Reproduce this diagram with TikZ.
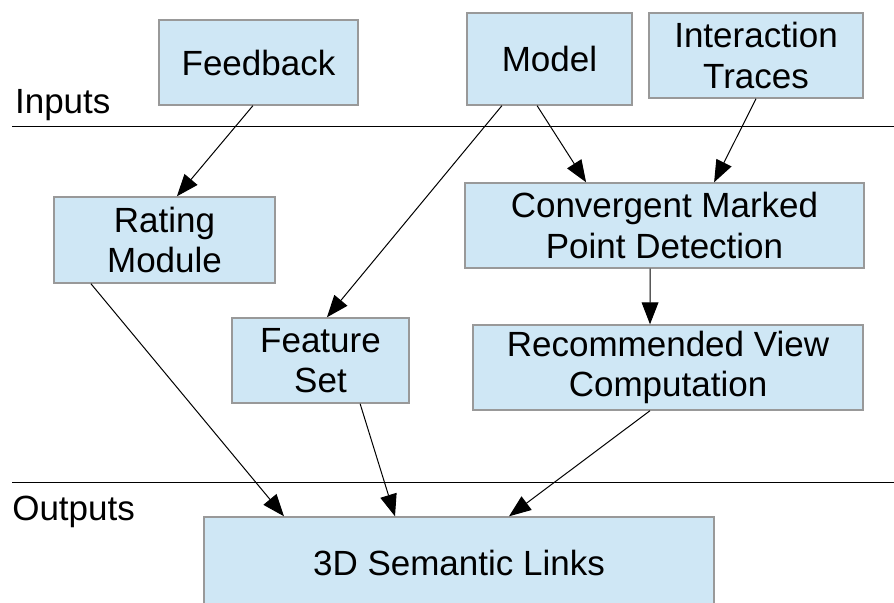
\documentclass[tikz,border=0pt]{standalone}
\usepackage{fontspec}
\setmainfont{Liberation Sans}
\usetikzlibrary{arrows.meta}
\usepackage{xcolor}
\definecolor{boxblue}{RGB}{207,231,245}

\begin{document}
\begin{tikzpicture}[
    bx/.style={draw=gray!80, line width=0.035cm, fill=boxblue, align=center, inner sep=0pt, font=\fontsize{24.9}{28.5}\selectfont},
    lbl/.style={anchor=base west, inner sep=0pt, font=\fontsize{24.9}{28.5}\selectfont},
    ar/.style={-{Triangle[length=0.55cm,width=0.42cm]}, draw=black, line width=0.025cm}]

    \useasboundingbox (0,0) rectangle (22.35,-15.075);

    \node[lbl] (In) at (0.37,-2.83) {Inputs};
    \node[lbl] (Out) at (0.3,-13.0) {Outputs};
    \draw[line width=0.03cm] (0.3,-3.17) -- (22.35,-3.17);
    \draw[line width=0.03cm] (0.3,-12.07) -- (22.35,-12.07);

    \node[bx, minimum width=4.975cm, minimum height=2.125cm] (Fe) at (6.4625,-1.5625) {Feedback};
    \node[bx, minimum width=4.125cm, minimum height=2.3cm] (Mo) at (13.7375,-1.475) {Model};
    \node[bx, minimum width=5.35cm, minimum height=2.125cm] (InTr) at (18.9,-1.3875) {Interaction\\Traces};

    \node[bx, minimum width=5.525cm, minimum height=2.15cm] (RaMo) at (4.1125,-6.0) {Rating\\Module};
    \node[bx, minimum width=9.975cm, minimum height=2.125cm] (CoMa) at (16.6125,-5.6375) {Convergent Marked\\Point Detection};

    \node[bx, minimum width=4.425cm, minimum height=2.125cm] (FeSe) at (8.0125,-9.0125) {Feature\\Set};
    \node[bx, minimum width=9.75cm, minimum height=2.125cm] (ReVi) at (16.7,-9.1875) {Recommended View\\Computation};

    \node[bx, minimum width=12.75cm, minimum height=2.3cm] (SeLi) at (11.475,-14.075) {3D Semantic Links};

    \draw[ar] ([xshift=-0.14cm]Fe.south) to ([xshift=0.31cm]RaMo.north);
    \draw[ar] ([xshift=-1.19cm]Mo.south) to ([xshift=0.16cm]FeSe.north);
    \draw[ar] ([xshift=-0.31cm]Mo.south) to ([xshift=-1.96cm]CoMa.north);
    \draw[ar] (InTr.south) to ([xshift=1.24cm]CoMa.north);
    \draw[ar] ([xshift=-0.36cm]CoMa.south) to ([xshift=-0.45cm]ReVi.north);

    \draw[ar] ([xshift=-1.84cm]RaMo.south) to ([xshift=-4.375cm]SeLi.north);
    \draw[ar] ([xshift=0.99cm]FeSe.south) to ([xshift=-1.6cm]SeLi.north);
    \draw[ar] ([xshift=-0.45cm]ReVi.south) to ([xshift=1.25cm]SeLi.north);

\end{tikzpicture}
\end{document}
